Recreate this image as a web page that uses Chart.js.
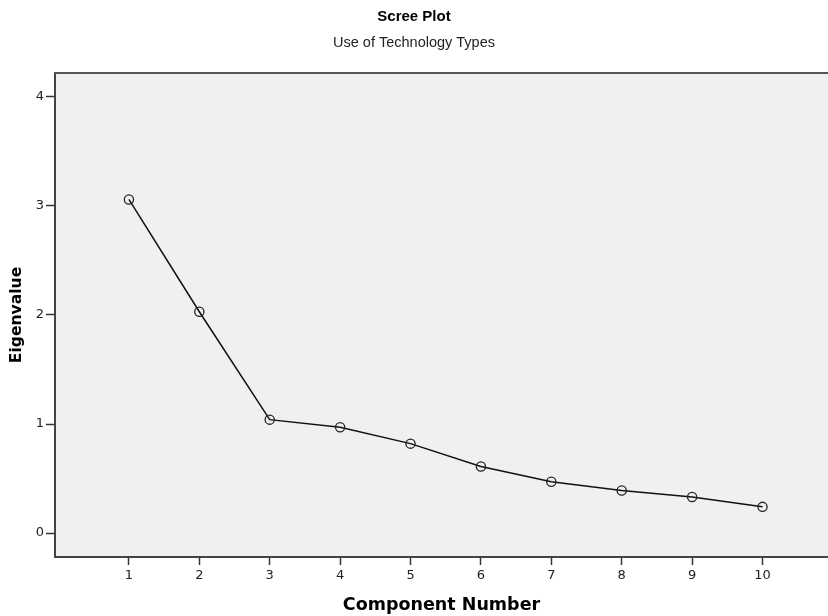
<!DOCTYPE html>
<html>
<head>
<meta charset="utf-8">
<script src="https://cdn.jsdelivr.net/npm/chart.js@4"></script>
<style>
    html, body { margin: 0; padding: 0; background: #fff; }
    #myChart { display: block; }
</style>
</head>
<body>
<canvas id="myChart" width="828" height="616"></canvas>
<script>
const components = [1, 2, 3, 4, 5, 6, 7, 8, 9, 10];
const eigenvalues = [3.06, 2.03, 1.04, 0.97, 0.82, 0.61, 0.47, 0.39, 0.33, 0.24];
const yTickValues = [0, 1, 2, 3, 4];

const points = components.map((c, i) => ({ x: c, y: eigenvalues[i] }));

// grey plot background + top frame line
const plotFrame = {
    id: 'plotFrame',
    beforeDraw(chart) {
        const { ctx, chartArea: a } = chart;
        ctx.save();
        ctx.fillStyle = '#f0f0f0';
        ctx.fillRect(a.left, a.top, a.right - a.left, a.bottom - a.top);
        ctx.restore();
    },
    afterDraw(chart) {
        const { ctx, chartArea: a } = chart;
        ctx.save();
        ctx.strokeStyle = '#555';
        ctx.lineWidth = 2;
        ctx.beginPath();
        ctx.moveTo(a.left - 1, a.top);
        ctx.lineTo(a.right, a.top);
        ctx.stroke();
        ctx.restore();
    }
};

const data = {
    datasets: [
        {
            label: 'Eigenvalue',
            data: points,
            borderColor: '#111',
            borderWidth: 1.5,
            pointRadius: 4.6,
            pointBorderWidth: 1.3,
            pointBorderColor: '#222',
            pointBackgroundColor: 'rgba(0,0,0,0)',
            tension: 0,
        }
    ]
};

const config = {
    type: 'line',
    data: data,
    plugins: [plotFrame],
    options: {
        responsive: false,
        animation: false,
        layout: { padding: 0, autoPadding: false },
        plugins: {
            legend: { display: false },
            tooltip: { enabled: false },
            title: {
                display: true,
                text: 'Scree Plot',
                color: '#000',
                font: { family: 'Liberation Sans', size: 15, weight: 'bold', lineHeight: 1.2 },
                padding: { top: 8, bottom: 0 }
            },
            subtitle: {
                display: true,
                text: 'Use of Technology Types',
                color: '#222',
                font: { family: 'Liberation Sans', size: 14.5, lineHeight: 1.2 },
                padding: { top: 8.3, bottom: 21.3 }
            }
        },
        scales: {
            x: {
                type: 'linear',
                min: -0.05,
                max: 10.93,
                afterBuildTicks: (scale) => {
                    scale.ticks = components.map(v => ({ value: v }));
                },
                afterFit: (scale) => {
                    scale.height = 59;
                    scale.paddingLeft = 0;
                    scale.paddingRight = 0;
                },
                grid: {
                    drawOnChartArea: false,
                    drawTicks: true,
                    tickLength: 8,
                    tickWidth: 1.5,
                    tickColor: '#333'
                },
                border: { display: true, color: '#444', width: 2 },
                ticks: {
                    color: '#222',
                    padding: 3,
                    font: { family: 'DejaVu Sans', size: 13 }
                },
                title: {
                    display: true,
                    text: 'Component Number',
                    color: '#000',
                    font: { family: 'DejaVu Sans', size: 17.5, weight: 'bold', lineHeight: 1.2 },
                    padding: { top: 0, bottom: 0.5 }
                }
            },
            y: {
                type: 'linear',
                min: -0.22,
                max: 4.22,
                afterBuildTicks: (scale) => {
                    scale.ticks = yTickValues.map(v => ({ value: v }));
                },
                afterFit: (scale) => { scale.width = 55; },
                grid: {
                    drawOnChartArea: false,
                    drawTicks: true,
                    tickLength: 9,
                    tickWidth: 1.5,
                    tickColor: '#333'
                },
                border: { display: true, color: '#444', width: 2 },
                ticks: {
                    color: '#222',
                    padding: 2,
                    font: { family: 'DejaVu Sans', size: 13 }
                },
                title: {
                    display: true,
                    text: 'Eigenvalue',
                    color: '#000',
                    font: { family: 'DejaVu Sans', size: 15.6, weight: 'bold', lineHeight: 1.2 },
                    padding: { top: 7.6, bottom: 0 }
                }
            }
        }
    }
};

const myChart = new Chart(
    document.getElementById('myChart'),
    config
);
</script>
</body>
</html>
